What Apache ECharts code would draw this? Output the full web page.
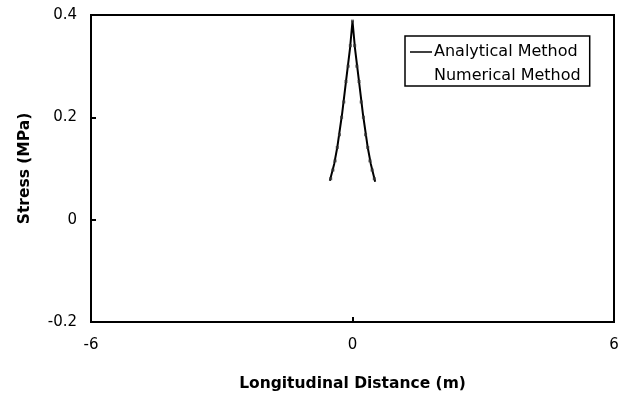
<!DOCTYPE html>
<html><head><meta charset="utf-8">
<script src="https://cdn.jsdelivr.net/npm/echarts@6/dist/echarts.min.js"></script>
<style>html,body{margin:0;padding:0;background:#fff}#c{width:626px;height:397px}</style>
</head><body><div id="c"></div>
<script>
const xTicks = [-6, 0, 6];
const yTicks = [-0.2, 0, 0.2, 0.4];
const analyticalX = [-0.52, -0.42, -0.35, -0.24, -0.15, -0.057, 0, 0.057, 0.15, 0.24, 0.35, 0.42, 0.52];
const analyticalY = [0.076, 0.109, 0.141, 0.206, 0.270, 0.335, 0.388, 0.335, 0.270, 0.206, 0.141, 0.109, 0.074];
const numericalX = [-0.50, -0.45, -0.40, -0.35, -0.30, -0.25, -0.20, -0.15, -0.10, -0.05, 0, 0.05, 0.10, 0.15, 0.20, 0.25, 0.30, 0.35, 0.40, 0.45, 0.50];
const numericalY = [0.080, 0.097, 0.115, 0.141, 0.166, 0.200, 0.230, 0.270, 0.300, 0.340, 0.388, 0.340, 0.300, 0.270, 0.230, 0.200, 0.166, 0.141, 0.115, 0.097, 0.080];

const chart = echarts.init(document.getElementById('c'));
const font = 'DejaVu Sans, Arial, sans-serif';
chart.setOption({
  animation: false,
  grid: { left: 91, right: 12, top: 15, bottom: 73, show: true, borderColor: '#000', borderWidth: 2, backgroundColor: 'transparent' },
  legend: {
    orient: 'vertical', left: 405, top: 36, padding: [8, 9, 2, 5], itemGap: 8,
    borderColor: '#000', borderWidth: 1.5, itemWidth: 22, itemHeight: 1.5,
    textStyle: { fontFamily: font, fontSize: 16, color: '#000', padding: [0, 0, 0, -3], lineHeight: 16 },
    data: [
      { name: 'Analytical Method', icon: 'rect', itemStyle: { color: '#000' } },
      { name: 'Numerical Method', icon: 'rect', itemStyle: { opacity: 0 } }
    ]
  },
  xAxis: {
    type: 'value', min: -6, max: 6, interval: 6,
    name: 'Longitudinal Distance (m)', nameLocation: 'middle', nameGap: 54,
    nameTextStyle: { fontFamily: font, fontSize: 15.5, fontWeight: 'bold', color: '#000' },
    axisLine: { show: false, onZero: false },
    axisTick: { show: true, inside: true, length: 5, lineStyle: { color: '#000', width: 2 } },
    axisLabel: { fontFamily: font, fontSize: 15, color: '#000', margin: 16, formatter: v => xTicks.includes(v) ? String(v) : '' },
    splitLine: { show: false }
  },
  yAxis: {
    type: 'value', min: -0.2, max: 0.4, interval: 0.2,
    name: 'Stress (MPa)', nameLocation: 'middle', nameGap: 58, nameRotate: 90,
    nameTextStyle: { fontFamily: font, fontSize: 15.5, fontWeight: 'bold', color: '#000' },
    axisLine: { show: false, onZero: false },
    axisTick: { show: true, inside: true, length: 5, lineStyle: { color: '#000', width: 2 } },
    axisLabel: { fontFamily: font, fontSize: 15, color: '#000', margin: 14,
      formatter: v => { const r = Math.round(v * 10) / 10; return yTicks.includes(r) ? String(r) : ''; } },
    splitLine: { show: false }
  },
  series: [
    { name: 'Analytical Method', type: 'line', data: analyticalX.map((x, i) => [x, analyticalY[i]]),
      showSymbol: false, symbol: 'none', lineStyle: { color: '#000', width: 2 }, itemStyle: { color: '#000' }, z: 3 },
    { name: 'Numerical Method', type: 'scatter', data: numericalX.map((x, i) => [x, numericalY[i]]),
      symbol: 'rect', symbolSize: 3, itemStyle: { color: '#333' }, z: 4 }
  ]
});
</script></body></html>
